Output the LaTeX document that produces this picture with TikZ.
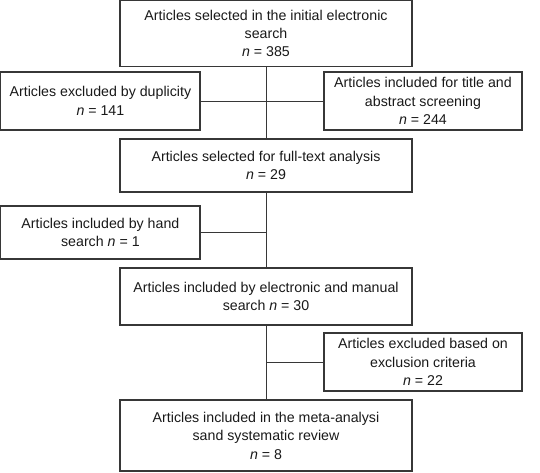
\documentclass[tikz,border=0pt]{standalone}
\usepackage{fontspec}
\setmainfont{Liberation Sans}
\definecolor{linegray}{RGB}{55,55,55}
\definecolor{txt}{RGB}{25,25,25}
\begin{document}
\begin{tikzpicture}[x=1pt,y=-1pt,
  box/.style={draw=linegray, line width=1.3pt, rectangle, inner sep=0pt, align=center,
    text=txt, font=\fontsize{14.2}{18.4}\selectfont},
  conn/.style={draw=linegray, line width=1pt}]
\useasboundingbox (0,0) rectangle (540,472);
\node[box, minimum width=292pt, minimum height=65.5pt] (b1) at (266,33.4) {Articles selected in the initial electronic\\search\\\textit{n} = 385};
\node[box, minimum width=199.4pt, minimum height=58pt] (dup) at (100.4,101) {Articles excluded by duplicity\\\textit{n} = 141};
\node[box, minimum width=198pt, minimum height=58pt] (tit) at (423,101) {Articles included for title and\\abstract screening\\\textit{n} = 244};
\node[box, minimum width=292pt, minimum height=53pt] (b3) at (266,165.5) {Articles selected for full-text analysis\\\textit{n} = 29};
\node[box, minimum width=199.4pt, minimum height=53pt] (hand) at (100.4,232.5) {Articles included by hand\\search \textit{n} = 1};
\node[box, minimum width=292pt, minimum height=57pt] (b4) at (266,296.5) {Articles included by electronic and manual\\search \textit{n} = 30};
\node[box, minimum width=198pt, minimum height=58pt] (crit) at (423,362) {Articles excluded based on\\exclusion criteria\\\textit{n} = 22};
\node[box, minimum width=292pt, minimum height=71pt] (b5) at (266,435.6) {Articles included in the meta-analysi\\sand systematic review\\\textit{n} = 8};
\draw[conn] (b1.south) -- (b3.north);
\draw[conn] (dup.east) -- (tit.west);
\draw[conn] (b3.south) -- (b4.north);
\coordinate (hj) at (hand.east -| b3.south);
\draw[conn] (hand.east) -- (hj);
\draw[conn] (b4.south) -- (b5.north);
\coordinate (cj) at (crit.west -| b4.south);
\draw[conn] (crit.west) -- (cj);
\end{tikzpicture}
\end{document}
